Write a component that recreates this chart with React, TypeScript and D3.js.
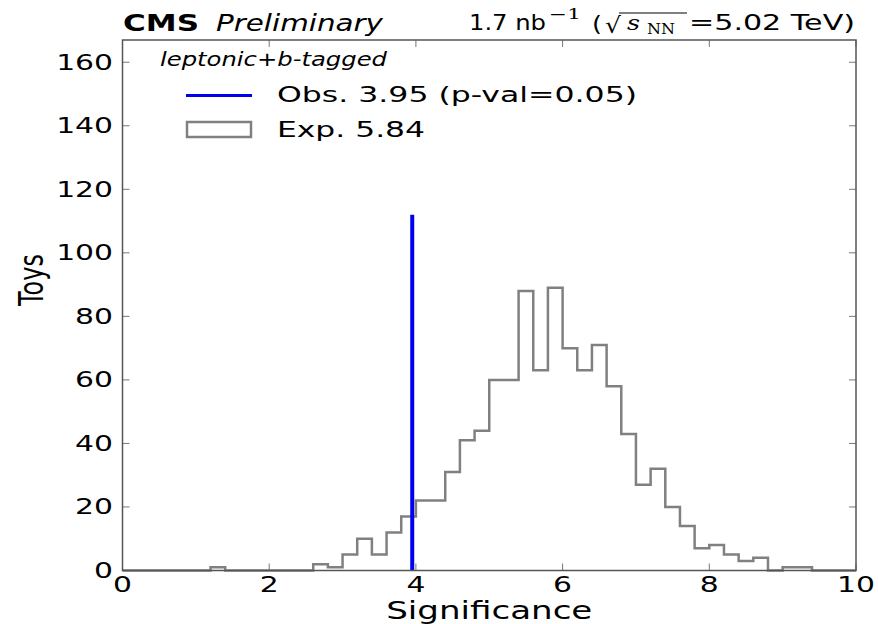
import React from "react";
import * as d3 from "d3";

// ---- data ----
const binEdgesStart = 0;
const binWidth = 0.2;
const toyCounts = [
  0, 0, 0, 0, 0, 0, 1, 0, 0, 0,
  0, 0, 0, 2, 1, 5, 10, 5, 12, 17,
  22, 22, 31, 41, 44, 60, 60, 88, 63, 89,
  70, 63, 71, 58, 43, 27, 32, 20, 14, 7,
  8, 5, 3, 4, 0, 1, 1, 0, 0, 0,
];
const observedSig = 3.95;
const observedLineHeight = 112;
const xTicks = [0, 2, 4, 6, 8, 10];
const yTicks = [0, 20, 40, 60, 80, 100, 120, 140, 160];

const W = 878;
const H = 624;
const S = 1.42; // horizontal text stretch
const FONT = "DejaVu Sans, sans-serif";
const SERIF = "DejaVu Serif, serif";

export default function App() {
  const x = d3.scaleLinear().domain([0, 10]).range([122.5, 856]);
  const y = d3.scaleLinear().domain([0, 167]).range([570.5, 40]);

  const pts: [number, number][] = [];
  pts.push([binEdgesStart, 0]);
  toyCounts.forEach((c, i) => {
    const a = binEdgesStart + i * binWidth;
    pts.push([a, c]);
    pts.push([a + binWidth, c]);
  });
  pts.push([binEdgesStart + toyCounts.length * binWidth, 0]);
  const line = d3
    .line<[number, number]>()
    .x((d) => x(d[0]))
    .y((d) => y(d[1]));

  const [x0, x1] = x.range();
  const [yb, yt] = y.range();
  const tickLen = 7;
  const frame = "#555";
  const tickColor = "#777";

  const T = (props: any) => {
    const { x: tx, y: ty, children, anchor = "start", size = 20, style = "normal", weight = "normal", family = FONT, sx = S } = props;
    return (
      <text
        transform={`translate(${tx},${ty}) scale(${sx},1)`}
        textAnchor={anchor}
        fontSize={size}
        fontStyle={style}
        fontWeight={weight}
        fontFamily={family}
        fill="#000"
      >
        {children}
      </text>
    );
  };

  return (
    <svg
      width={W}
      height={H}
      style={{ position: "absolute", left: 0, top: 0, background: "#fff" }}
    >
      <rect x={0} y={0} width={W} height={H} fill="#fff" />
      {/* ticks */}
      {xTicks.map((t) => (
        <g key={"xt" + t}>
          <line x1={x(t)} x2={x(t)} y1={yb} y2={yb - tickLen} stroke={tickColor} strokeWidth={1} />
          <line x1={x(t)} x2={x(t)} y1={yt} y2={yt + tickLen} stroke={tickColor} strokeWidth={1} />
          <T x={x(t)} y={592} anchor="middle" size={21}>{String(t)}</T>
        </g>
      ))}
      {yTicks.map((t) => (
        <g key={"yt" + t}>
          <line x1={x0} x2={x0 + tickLen} y1={y(t)} y2={y(t)} stroke={tickColor} strokeWidth={1} />
          <line x1={x1} x2={x1 - tickLen} y1={y(t)} y2={y(t)} stroke={tickColor} strokeWidth={1} />
          <T x={113} y={y(t) + 7.5} anchor="end" size={21}>{String(t)}</T>
        </g>
      ))}

      {/* histogram */}
      <path d={line(pts) || ""} fill="none" stroke="#808080" strokeWidth={2.5} />
      {/* observed */}
      <line
        x1={x(observedSig)}
        x2={x(observedSig)}
        y1={y(0)}
        y2={y(observedLineHeight)}
        stroke="#0000f0"
        strokeWidth={4}
      />

      {/* frame */}
      <rect x={x0} y={yt} width={x1 - x0} height={yb - yt} fill="none" stroke={frame} strokeWidth={1.5} />

      {/* axis labels */}
      <T x={(x0 + x1) / 2} y={619} anchor="middle" size={24}>Significance</T>
      <text
        transform={`translate(43,280) scale(${S},1) rotate(-90)`}
        textAnchor="middle"
        fontSize={24}
        fontFamily={FONT}
      >
        Toys
      </text>

      {/* title */}
      <text x={123} y={31} fontSize={23} fontWeight="bold" fontFamily={FONT} textLength={76} lengthAdjust="spacingAndGlyphs">CMS</text>
      <text x={216} y={31} fontSize={23} fontStyle="italic" fontFamily={FONT} textLength={167} lengthAdjust="spacingAndGlyphs">Preliminary</text>

      <text x={469} y={30} fontSize={21} fontFamily={FONT} textLength={77} lengthAdjust="spacingAndGlyphs">1.7 nb</text>
      <text x={549} y={19} fontSize={14} fontFamily={SERIF} textLength={32} lengthAdjust="spacingAndGlyphs">−1</text>
      <text x={592} y={31} fontSize={21} fontFamily={FONT} textLength={10} lengthAdjust="spacingAndGlyphs">(</text>
      <text x={605} y={33} fontSize={22} fontFamily={SERIF} textLength={16} lengthAdjust="spacingAndGlyphs">√</text>
      <line x1={619} x2={687} y1={13} y2={13} stroke="#000" strokeWidth={1} />
      <text x={627} y={30} fontSize={21} fontStyle="italic" fontFamily={SERIF} textLength={13} lengthAdjust="spacingAndGlyphs">s</text>
      <text x={647} y={34} fontSize={14} fontFamily={SERIF} textLength={28} lengthAdjust="spacingAndGlyphs">NN</text>
      <text x={689} y={30} fontSize={21} fontFamily={FONT} textLength={166} lengthAdjust="spacingAndGlyphs">=5.02 TeV)</text>

      {/* legend */}
      <text x={160} y={66} fontSize={20} fontStyle="italic" fontFamily={FONT} textLength={227} lengthAdjust="spacingAndGlyphs">leptonic+b-tagged</text>
      <line x1={186} x2={252} y1={95.5} y2={95.5} stroke="#0000f0" strokeWidth={3} />
      <text x={277} y={102} fontSize={22} fontFamily={FONT} textLength={360} lengthAdjust="spacingAndGlyphs">Obs. 3.95 (p-val=0.05)</text>
      <rect x={187} y={122} width={64} height={15} fill="none" stroke="#808080" strokeWidth={2.5} />
      <text x={277} y={137} fontSize={22} fontFamily={FONT} textLength={148} lengthAdjust="spacingAndGlyphs">Exp. 5.84</text>
    </svg>
  );
}
